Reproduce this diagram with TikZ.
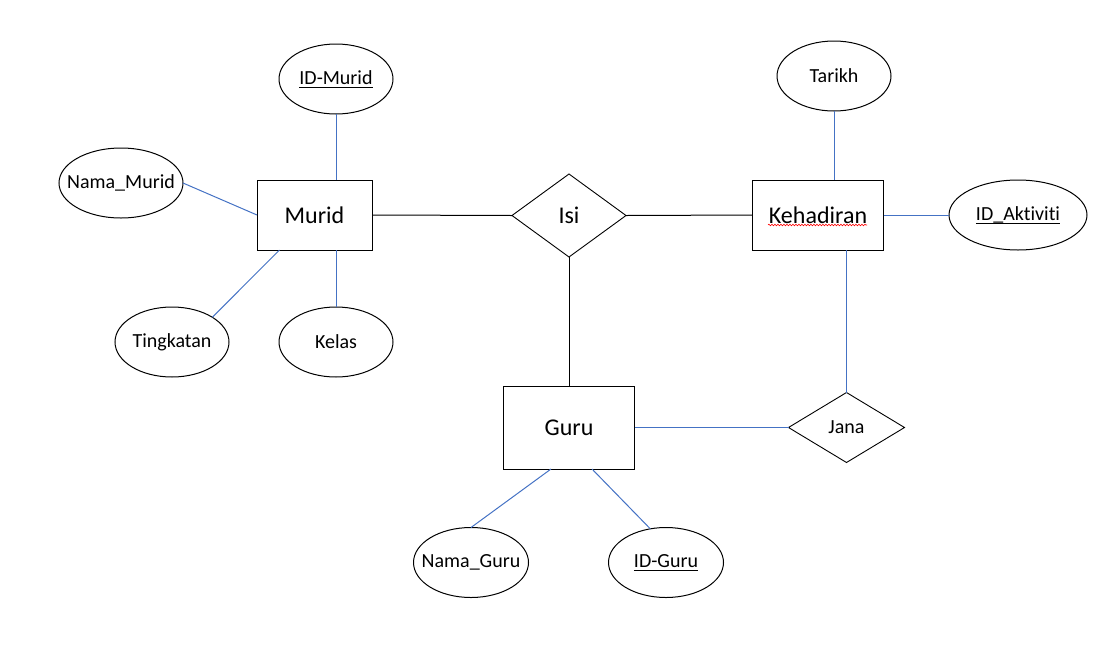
\documentclass[tikz,border=0pt]{standalone}
\usepackage{fontspec}
\setmainfont{Carlito}[Ligatures=NoCommon]
\usetikzlibrary{shapes.geometric,decorations.pathmorphing}
\definecolor{lnblue}{HTML}{4472C4}
\newsavebox\ulbox
\newcommand\ulin[1]{\sbox\ulbox{#1}\rlap{\rule[-3.2pt]{\wd\ulbox}{1pt}}\usebox\ulbox}
\newcommand\zw[1]{\makebox[0pt]{#1}}
\begin{document}
\begin{tikzpicture}[x=1pt,y=-1pt,
  ent/.style={draw,rectangle,line width=1pt,inner sep=0pt,outer sep=0pt,font=\fontsize{24}{28}\selectfont},
  attr/.style={draw,ellipse,line width=1pt,inner sep=0pt,outer sep=0pt,minimum width=114pt,minimum height=70pt,font=\fontsize{20}{24}\selectfont},
  rel/.style={draw,diamond,line width=0.9pt,inner sep=0pt,outer sep=0pt},
  lk/.style={line width=1pt,black},
  la/.style={line width=1pt,lnblue}]
\useasboundingbox (0,0) rectangle (1112,665);
% entities
\node[ent,minimum width=115pt,minimum height=70pt] (murid) at (314.5,215) {Murid};
\node[ent,minimum width=131pt,minimum height=70pt] (keh) at (818,215) {Kehadiran};
\node[ent,minimum width=131pt,minimum height=83pt] (guru) at (569,427.5) {Guru};
% relationships
\node[rel,minimum width=114pt,minimum height=83pt,font=\fontsize{24}{28}\selectfont] (isi) at (569,215.5) {\zw{Isi}};
\node[rel,minimum width=116pt,minimum height=70pt,font=\fontsize{20}{24}\selectfont] (jana) at (846.5,427.5) {\zw{Jana}};
% attributes
\node[attr] (idm) at (336,79) {\zw{\ulin{ID-Murid}}};
\node[attr,minimum width=124pt] (nm) at (121,183) {\zw{Nama\_Murid}};
\node[attr] (ting) at (172,342) {\zw{Tingkatan}};
\node[attr] (kelas) at (336,342) {\zw{Kelas}};
\node[attr] (tarikh) at (834,76) {\zw{Tarikh}};
\node[attr,minimum width=138pt] (ida) at (1018,215) {\zw{\ulin{ID\_Aktiviti}}};
\node[attr,minimum width=115pt] (ng) at (471,562.5) {\zw{Nama\_Guru}};
\node[attr,minimum width=115pt] (idg) at (666,562.5) {\zw{\ulin{ID-Guru}}};
% spell-check underline
\draw[red,line width=0.6pt,decorate,decoration={snake,amplitude=0.8pt,segment length=3pt}]
  ([xshift=-50pt,yshift=-10pt]keh.center) -- ([xshift=49pt,yshift=-10pt]keh.center);
% black connectors
\draw[lk] (murid.east) -- (isi.west);
\draw[lk] (isi.east) -- (keh.west);
\draw[lk] (isi.south) -- (guru.north);
% blue connectors
\draw[la] (idm.south) -- (idm.south |- murid.north);
\draw[la] (nm.east) -- (murid.west);
\draw[la] ([xshift=-35pt]murid.south) -- (ting.north east);
\draw[la] (kelas.north) -- (kelas.north |- murid.south);
\draw[la] (tarikh.south) -- (tarikh.south |- keh.north);
\draw[la] (keh.east) -- (ida.west);
\draw[la] (jana.north) -- (jana.north |- keh.south);
\draw[la] (guru.east) -- (jana.west);
\draw[la] ([xshift=-18pt]guru.south) -- (ng.north);
\draw[la] ([xshift=23pt]guru.south) -- (idg.115);
\end{tikzpicture}
\end{document}
